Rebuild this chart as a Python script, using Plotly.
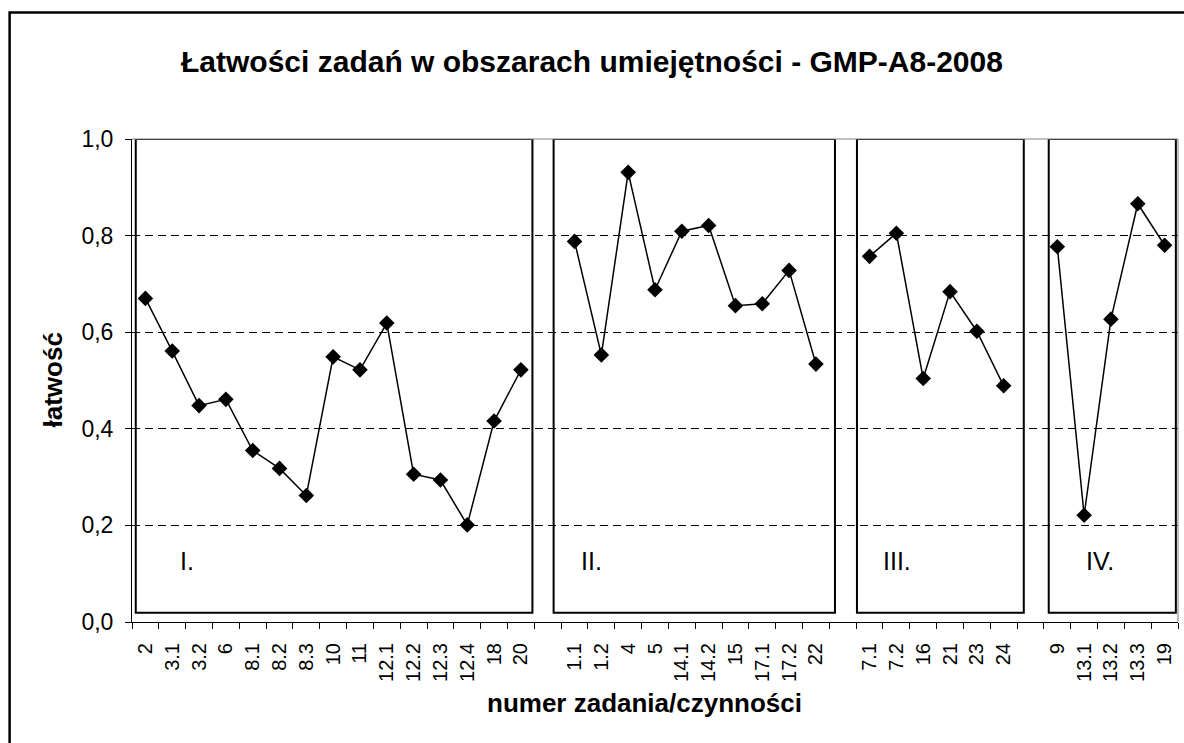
import plotly.graph_objects as go

# task numbers and easiness values, one list per skill area
tasks_I = ["2", "3.1", "3.2", "6", "8.1", "8.2", "8.3", "10", "11", "12.1", "12.2", "12.3", "12.4", "18", "20"]
vals_I = [0.670, 0.561, 0.448, 0.461, 0.355, 0.318, 0.262, 0.549, 0.522, 0.619, 0.306, 0.294, 0.201, 0.416, 0.522]

tasks_II = ["1.1", "1.2", "4", "5", "14.1", "14.2", "15", "17.1", "17.2", "22"]
vals_II = [0.788, 0.553, 0.931, 0.688, 0.809, 0.821, 0.655, 0.659, 0.728, 0.534]

tasks_III = ["7.1", "7.2", "16", "21", "23", "24"]
vals_III = [0.757, 0.805, 0.504, 0.684, 0.602, 0.489]

tasks_IV = ["9", "13.1", "13.2", "13.3", "19"]
vals_IV = [0.777, 0.221, 0.627, 0.866, 0.780]

area_names = ["I.", "II.", "III.", "IV."]

# join the groups with one empty category between them (line breaks there)
groups = [(tasks_I, vals_I), (tasks_II, vals_II), (tasks_III, vals_III), (tasks_IV, vals_IV)]
x_cats, y_vals = [], []
for k, (t, v) in enumerate(groups):
    x_cats += t
    y_vals += v
    if k < len(groups) - 1:
        x_cats.append(" " * (k + 1))
        y_vals.append(None)

FONT = "Arial, Liberation Sans, sans-serif"

fig = go.Figure()
fig.add_trace(go.Scatter(
    x=x_cats, y=y_vals, mode="lines+markers",
    line=dict(color="black", width=1.5),
    marker=dict(symbol="diamond", size=12, color="black"),
    connectgaps=False, showlegend=False,
))

# hand drawn frames round each area (category units)
box_edges = [(-0.36, 14.43), (15.22, 25.71), (26.53, 32.75), (33.68, 38.42)]
label_x = [1.2, 16.16, 27.43, 34.98]
for (x0, x1), name, lx in zip(box_edges, area_names, label_x):
    fig.add_shape(type="rect", xref="x", yref="y", x0=x0, x1=x1, y0=0.019, y1=1.0,
                  line=dict(color="black", width=2))
    fig.add_annotation(x=lx, y=0.126, xref="x", yref="y", text=name, showarrow=False,
                       xanchor="left", yanchor="middle",
                       font=dict(size=25, color="black", family=FONT))

# grey plot area edges (top and right)
fig.add_shape(type="line", xref="paper", yref="paper", x0=0, x1=1, y0=1, y1=1,
              line=dict(color="#808080", width=1))
fig.add_shape(type="line", xref="paper", yref="paper", x0=1, x1=1, y0=0, y1=1,
              line=dict(color="#808080", width=1))
# outer chart border
fig.add_shape(type="rect", xref="paper", yref="paper", x0=-0.117, x1=1.03, y0=-0.35, y1=1.262,
              line=dict(color="black", width=2.5))

fig.add_annotation(x=0.44, y=1.0 + 77 / 483, xref="paper", yref="paper", showarrow=False,
                   xanchor="center", yanchor="middle",
                   text="<b>Łatwości zadań w obszarach umiejętności - GMP-A8-2008</b>",
                   font=dict(size=30, color="black", family=FONT))
fig.add_annotation(x=0.49, y=-81 / 483, xref="paper", yref="paper", showarrow=False,
                   xanchor="center", yanchor="middle",
                   text="<b>numer zadania/czynności</b>",
                   font=dict(size=26, color="black", family=FONT))
fig.add_annotation(x=-80 / 1046, y=0.5, xref="paper", yref="paper", showarrow=False,
                   xanchor="center", yanchor="middle",
                   text="<b>łatwość</b>", textangle=-90,
                   font=dict(size=26, color="black", family=FONT))

fig.update_xaxes(
    type="category", categoryorder="array", categoryarray=x_cats,
    range=[-0.5, len(x_cats) - 0.5],
    tickson="boundaries", ticks="outside", ticklen=6, tickcolor="black",
    tickangle=-90, tickfont=dict(size=20, color="black", family=FONT),
    ticklabelstandoff=12,
    showline=True, linecolor="black", linewidth=1,
    showgrid=False, zeroline=False, fixedrange=True,
)
fig.update_yaxes(
    range=[0, 1.0], tickvals=[0, 0.2, 0.4, 0.6, 0.8, 1.0], tickformat=".1f",
    ticks="outside", ticklen=6, tickcolor="black",
    tickfont=dict(size=23, color="black", family=FONT),
    ticklabelstandoff=7,
    showline=True, linecolor="black", linewidth=1,
    showgrid=True, gridcolor="black", gridwidth=1, griddash="8px,5px",
    zeroline=False, fixedrange=True,
)

fig.update_layout(
    width=1184, height=743,
    margin=dict(l=132, r=6, t=139, b=121),
    plot_bgcolor="white", paper_bgcolor="white",
    separators=", ",
    font=dict(family=FONT, color="black"),
)

# drop the default page margin so the figure sits at the window corner
fig.write_html("out.html", config={"displayModeBar": False},
               post_script="document.body.style.margin='0';")
